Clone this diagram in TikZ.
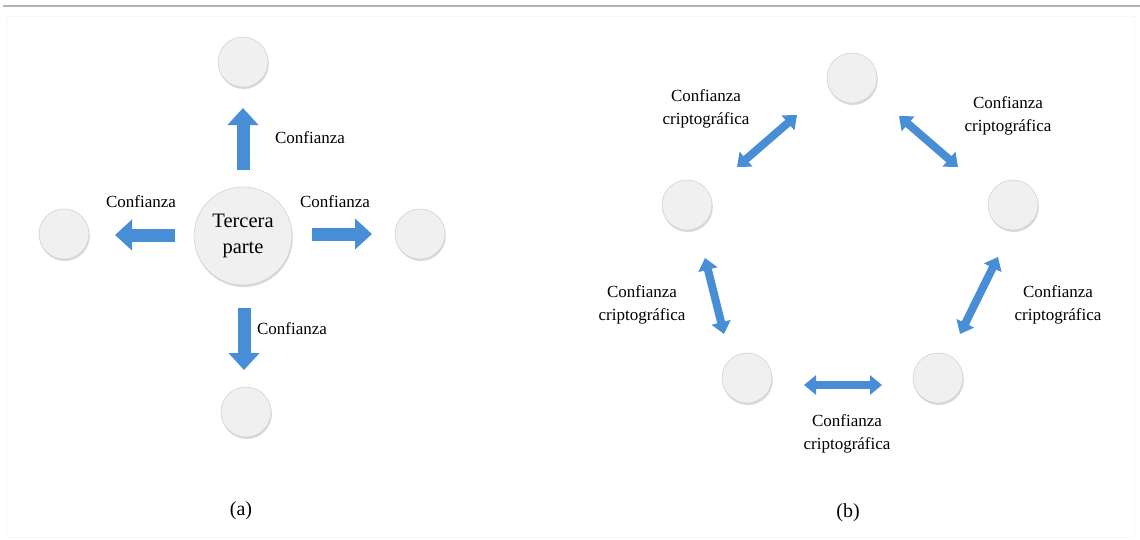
\documentclass[tikz,border=0pt]{standalone}
\usepackage{fontspec}
\setmainfont{Liberation Serif}
\usetikzlibrary{arrows.meta,shadows}
\definecolor{arrowblue}{RGB}{72,142,214}
\definecolor{nodefill}{RGB}{240,240,240}
\begin{document}
\begin{tikzpicture}[x=1pt,y=-1pt,
  peer/.style={circle, fill=nodefill, draw=gray!35, line width=0.6pt, minimum size=50pt, inner sep=0pt,
    drop shadow={shadow xshift=0.8pt, shadow yshift=-2pt, opacity=0.3}},
  hub/.style={peer, minimum size=98pt, font=\fontsize{20.5}{26}\selectfont, align=center},
  lbl/.style={font=\fontsize{17}{23.5}\selectfont, align=center, inner sep=0pt},
  subcaption/.style={font=\fontsize{20}{24}\selectfont, inner sep=0pt},
  bigarrow/.style={draw=arrowblue, line width=13pt, -{Triangle[width=30pt,length=17pt]}},
  dblarrow/.style={draw=arrowblue, line width=8pt, {Triangle[width=19pt,length=12pt]}-{Triangle[width=19pt,length=12pt]}},
]
\useasboundingbox (0,0) rectangle (1140,539);
\draw[gray!60, line width=1.2pt] (3,6) -- (1140,6);
\draw[gray!6, line width=0.8pt] (6,16) rectangle (1134,537);

% (a)
\node[hub] (hub) at (243,236) {Tercera\\parte};
\node[peer] (a1) at (243,62) {};
\node[peer] (a2) at (64,234) {};
\node[peer] (a3) at (420,234) {};
\node[peer] (a4) at (246,412) {};

\coordinate (u0) at (243,170); \coordinate (u1) at (243,108);
\coordinate (l0) at (175,235); \coordinate (l1) at (115,235);
\coordinate (r0) at (312,234); \coordinate (r1) at (372,234);
\coordinate (d0) at (244,308); \coordinate (d1) at (244,370);
\draw[bigarrow] (u0) -- (u1);
\draw[bigarrow] (l0) -- (l1);
\draw[bigarrow] (r0) -- (r1);
\draw[bigarrow] (d0) -- (d1);

\node[lbl] (lu) at (310,138) {Confianza};
\node[lbl] (ll) at (141,202) {Confianza};
\node[lbl] (lr) at (335,202) {Confianza};
\node[lbl] (ld) at (292,329) {Confianza};

\node[subcaption] (capa) at (241,511) {(a)};

% (b)
\node[peer] (b1) at (852,78) {};
\node[peer] (b2) at (687,205) {};
\node[peer] (b3) at (1013,205) {};
\node[peer] (b4) at (747,378) {};
\node[peer] (b5) at (938,378) {};

\coordinate (tl0) at (737,167); \coordinate (tl1) at (797,115);
\coordinate (tr0) at (899,116); \coordinate (tr1) at (958,167);
\coordinate (sl0) at (705,258); \coordinate (sl1) at (724,334);
\coordinate (sr0) at (998,257); \coordinate (sr1) at (960,334);
\coordinate (bt0) at (804,385); \coordinate (bt1) at (882,385);
\draw[dblarrow] (tl0) -- (tl1);
\draw[dblarrow] (tr0) -- (tr1);
\draw[dblarrow] (sl0) -- (sl1);
\draw[dblarrow] (sr0) -- (sr1);
\draw[dblarrow] (bt0) -- (bt1);

\node[lbl] (ltl) at (706,109) {Confianza\\criptográfica};
\node[lbl] (ltr) at (1008,116) {Confianza\\criptográfica};
\node[lbl] (lsl) at (642,305) {Confianza\\criptográfica};
\node[lbl] (lsr) at (1058,305) {Confianza\\criptográfica};
\node[lbl] (lbt) at (847,434) {Confianza\\criptográfica};

\node[subcaption] (capb) at (848,513) {(b)};
\end{tikzpicture}
\end{document}
